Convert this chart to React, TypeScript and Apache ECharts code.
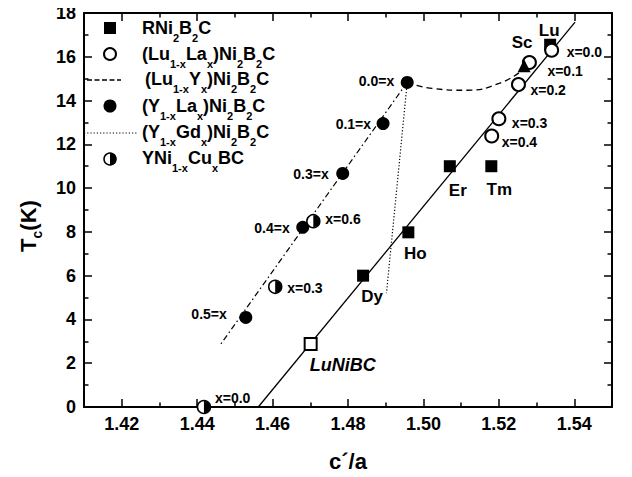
import React, { useEffect, useRef } from "react";
import * as echarts from "echarts";

// ---------- data ----------
const rNames = ["Dy", "Ho", "Er", "Tm", "Lu"];
const rCa = [1.484, 1.496, 1.507, 1.518, 1.5336];
const rTc = [6.0, 7.98, 11.0, 11.0, 16.55];

const scNames = ["Sc"];
const scCa = [1.5267];
const scTc = [15.59];

const luNiBCNames = ["LuNiBC"];
const luNiBCCa = [1.4701];
const luNiBCTc = [2.88];

const luLaNames = ["x=0.0", "x=0.1", "x=0.2", "x=0.3", "x=0.4"];
const luLaCa = [1.534, 1.5281, 1.5252, 1.52, 1.5181];
const luLaTc = [16.3, 15.74, 14.73, 13.17, 12.38];

const yLaNames = ["0.0=x", "0.1=x", "0.3=x", "0.4=x", "0.5=x"];
const yLaCa = [1.4957, 1.4893, 1.4786, 1.468, 1.4529];
const yLaTc = [14.83, 12.95, 10.67, 8.21, 4.09];

const cuNames = ["x=0.6", "x=0.3", "x=0.0"];
const cuCa = [1.4708, 1.4607, 1.4418];
const cuTc = [8.49, 5.49, 0.0];

const luYCa = [1.4957, 1.5025, 1.5114, 1.5203, 1.526];
const luYTc = [14.83, 14.55, 14.47, 14.8, 15.35];

const yGdCa = [1.4957, 1.4902];
const yGdTc = [14.83, 5.2];

const yLaFitCa = [1.4957, 1.4463];
const yLaFitTc = [14.83, 2.88];

const rFitCa = [1.4562, 1.5402];
const rFitTc = [0, 17.58];

const xMajorTicks = [1.42, 1.44, 1.46, 1.48, 1.5, 1.52, 1.54];
const xMinorTicks = [1.43, 1.45, 1.47, 1.49, 1.51, 1.53];

// ---------- layout / style ----------
const FONT = 'Arial, "Liberation Sans", Helvetica, sans-serif';
const labelOffsets: Record<string, [number, number]> = {
  Dy: [9, 21], Ho: [7, 21], Er: [8, 24], Tm: [8, 23], Lu: [-1, -14], Sc: [-2, -23], LuNiBC: [-1, 21],
};
const luLaOffsets: [number, number][] = [[15, 2], [18, 9], [12, 5], [13, 4], [10, 6]];
const yLaOffsets: [number, number][] = [[-13, -1], [-12, 0], [-14, 1], [-13, 1], [-19, -3]];
const cuOffsets: [number, number][] = [[12, -2], [12, 1], [11, -9]];

const zip = (a: number[], b: number[]) => a.map((v, i) => [v, b[i]]);

const smallLabel = (text: string, off: [number, number], align: string) => ({
  show: true,
  position: "inside",
  formatter: text,
  offset: off,
  align,
  verticalAlign: "middle",
  color: "#000",
  fontFamily: FONT,
  fontWeight: "bold",
  fontSize: 14,
});

const bigLabel = (text: string, off: [number, number], align = "center", italic = false) => ({
  show: true,
  position: "inside",
  formatter: text,
  offset: off,
  align,
  verticalAlign: "middle",
  color: "#000",
  fontFamily: FONT,
  fontWeight: "bold",
  fontStyle: italic ? "italic" : "normal",
  fontSize: italic ? 18 : 17,
});

const sub = {
  fontSize: 11,
  fontWeight: "bold",
  fontFamily: FONT,
  verticalAlign: "top",
  padding: [15, 0, 0, 0],
  lineHeight: 22,
  fill: "#000",
  color: "#000",
};

const legendText = (text: string, x: number, y: number) => ({
  type: "text",
  x,
  y,
  style: {
    text,
    x: 0,
    y: 0,
    fill: "#000",
    fontSize: 18,
    fontWeight: "bold",
    fontFamily: FONT,
    lineHeight: 22,
    align: "left",
    textAlign: "left",
    verticalAlign: "middle",
    textVerticalAlign: "middle",
    rich: { s: sub },
  },
  z: 100,
});

const axisCommon = {
  type: "value",
  min: 1.41,
  max: 1.55,
  splitLine: { show: false },
};

export default function App() {
  const ref = useRef<HTMLDivElement>(null);
  useEffect(() => {
    if (!ref.current) return;
    const chart = echarts.init(ref.current, null, { renderer: "svg" });
    const tickLine = { color: "#000", width: 1.5 };
    const axisLine = { show: true, onZero: false, lineStyle: { color: "#000", width: 2 } };

    const option: any = {
      animation: false,
      backgroundColor: "#fff",
      grid: { left: 84, right: 20, top: 13, bottom: 68, containLabel: false },
      xAxis: [
        {
          ...axisCommon,
          position: "bottom",
          axisLine,
          axisTick: { show: true, inside: true, length: 8, lineStyle: tickLine, customValues: xMajorTicks },
          axisLabel: {
            show: true,
            customValues: xMajorTicks,
            formatter: (v: number) => v.toFixed(2),
            color: "#000",
            fontFamily: FONT,
            fontWeight: "bold",
            fontSize: 18,
            margin: 8,
          },
          name: "c\u00b4/a",
          nameLocation: "middle",
          nameGap: 43,
          nameTextStyle: { color: "#000", fontFamily: FONT, fontWeight: "bold", fontSize: 22 },
        },
        {
          ...axisCommon,
          position: "bottom",
          axisLine: { show: false, onZero: false },
          axisTick: { show: true, inside: true, length: 4.5, lineStyle: tickLine, customValues: xMinorTicks },
          axisLabel: { show: false },
        },
        {
          ...axisCommon,
          position: "top",
          axisLine,
          axisTick: { show: true, inside: true, length: 8, lineStyle: tickLine, customValues: xMajorTicks },
          axisLabel: { show: false },
        },
        {
          ...axisCommon,
          position: "top",
          axisLine: { show: false, onZero: false },
          axisTick: { show: true, inside: true, length: 4.5, lineStyle: tickLine, customValues: xMinorTicks },
          axisLabel: { show: false },
        },
      ],
      yAxis: [
        {
          type: "value",
          position: "left",
          min: 0,
          max: 18,
          interval: 2,
          splitLine: { show: false },
          axisLine,
          axisTick: { show: true, inside: true, length: 8, lineStyle: tickLine },
          minorTick: { show: true, splitNumber: 2, length: 4.5, lineStyle: tickLine },
          axisLabel: { color: "#000", fontFamily: FONT, fontWeight: "bold", fontSize: 18, margin: 8 },
        },
        {
          type: "value",
          position: "right",
          min: 0,
          max: 18,
          interval: 2,
          splitLine: { show: false },
          axisLine,
          axisTick: { show: true, inside: true, length: 8, lineStyle: tickLine },
          minorTick: { show: true, splitNumber: 2, length: 4.5, lineStyle: tickLine },
          axisLabel: { show: false },
        },
      ],
      series: [
        {
          name: "RNi2B2C fit",
          type: "line",
          data: zip(rFitCa, rFitTc),
          showSymbol: false,
          symbol: "none",
          lineStyle: { color: "#000", width: 1.3 },
          z: 1,
          clip: false,
        },
        {
          name: "(Lu1-xYx)Ni2B2C",
          type: "line",
          data: zip(luYCa, luYTc),
          smooth: true,
          symbol: "none",
          lineStyle: { color: "#000", width: 1.3, type: [6, 4] },
          z: 1,
        },
        {
          name: "(Y1-xGdx)Ni2B2C",
          type: "line",
          data: zip(yGdCa, yGdTc),
          symbol: "none",
          lineStyle: { color: "#000", width: 1.2, type: [1.2, 2] },
          z: 1,
        },
        {
          name: "(Y1-xLax)Ni2B2C fit",
          type: "line",
          data: zip(yLaFitCa, yLaFitTc),
          symbol: "none",
          lineStyle: { color: "#000", width: 1.2, type: [6, 3, 1.5, 3] },
          z: 1,
        },
        {
          name: "RNi2B2C",
          type: "scatter",
          symbol: "rect",
          symbolSize: 12,
          itemStyle: { color: "#000", opacity: 1 },
          clip: false,
          z: 3,
          data: rNames.map((n, i) => ({ value: [rCa[i], rTc[i]], label: bigLabel(n, labelOffsets[n]) })),
        },
        {
          name: "LuNiBC",
          type: "scatter",
          symbol: "rect",
          symbolSize: 12,
          itemStyle: { color: "#fff", borderColor: "#000", borderWidth: 2, opacity: 1 },
          clip: false,
          z: 3,
          data: luNiBCNames.map((n, i) => ({
            value: [luNiBCCa[i], luNiBCTc[i]],
            label: bigLabel(n, labelOffsets[n], "left", true),
          })),
        },
        {
          name: "(Lu1-xLax)Ni2B2C",
          type: "scatter",
          symbol: "circle",
          symbolSize: 13,
          itemStyle: { color: "#fff", borderColor: "#000", borderWidth: 2, opacity: 1 },
          clip: false,
          z: 4,
          data: luLaNames.map((n, i) => ({ value: [luLaCa[i], luLaTc[i]], label: smallLabel(n, luLaOffsets[i], "left") })),
        },
        {
          name: "Sc",
          type: "scatter",
          symbol: "triangle",
          symbolSize: 13,
          itemStyle: { color: "#000", opacity: 1 },
          clip: false,
          z: 5,
          data: scNames.map((n, i) => ({ value: [scCa[i], scTc[i]], label: bigLabel(n, labelOffsets[n]) })),
        },
        {
          name: "(Y1-xLax)Ni2B2C",
          type: "scatter",
          symbol: "circle",
          symbolSize: 13,
          itemStyle: { color: "#000", opacity: 1 },
          clip: false,
          z: 4,
          data: yLaNames.map((n, i) => ({ value: [yLaCa[i], yLaTc[i]], label: smallLabel(n, yLaOffsets[i], "right") })),
        },
        {
          name: "YNi1-xCuxBC",
          type: "scatter",
          symbol: "circle",
          symbolSize: 13,
          itemStyle: { color: "#fff", borderColor: "#000", borderWidth: 1.5, opacity: 1 },
          clip: false,
          z: 4,
          data: cuNames.map((n, i) => ({ value: [cuCa[i], cuTc[i]], label: smallLabel(n, cuOffsets[i], "left") })),
        },
        {
          name: "YNi1-xCuxBC half",
          type: "custom",
          z: 5,
          clip: false,
          data: zip(cuCa, cuTc),
          encode: { x: 0, y: 1 },
          renderItem: (params: any, api: any) => {
            const p = api.coord([api.value(0), api.value(1)]);
            return {
              type: "sector",
              shape: { cx: p[0], cy: p[1], r: 6.2, r0: 0, startAngle: -Math.PI / 2, endAngle: Math.PI / 2, clockwise: true },
              style: { fill: "#000" },
            };
          },
        },
      ],
      graphic: [
        // legend symbols
        { type: "rect", shape: { x: 104, y: 22, width: 12, height: 12 }, style: { fill: "#000" }, z: 100 },
        { type: "circle", shape: { cx: 110, cy: 54, r: 6 }, style: { fill: "#fff", stroke: "#000", lineWidth: 2 }, z: 100 },
        { type: "line", shape: { x1: 87, y1: 80, x2: 121, y2: 80 }, style: { stroke: "#000", lineWidth: 1.3, lineDash: [5, 2.5] }, z: 100 },
        { type: "circle", shape: { cx: 110, cy: 106, r: 6.5 }, style: { fill: "#000" }, z: 100 },
        { type: "line", shape: { x1: 84, y1: 133, x2: 137, y2: 133 }, style: { stroke: "#000", lineWidth: 1.2, lineDash: [1.2, 2] }, z: 100 },
        { type: "circle", shape: { cx: 110, cy: 159, r: 6 }, style: { fill: "#fff", stroke: "#000", lineWidth: 1.5 }, z: 100 },
        {
          type: "sector",
          shape: { cx: 110, cy: 159, r: 6.2, r0: 0, startAngle: -Math.PI / 2, endAngle: Math.PI / 2, clockwise: true },
          style: { fill: "#000" },
          z: 101,
        },
        // legend texts
        legendText("RNi{s|2}B{s|2}C", 142, 28),
        legendText("(Lu{s|1-x}La{s|x})Ni{s|2}B{s|2}C", 142, 54),
        legendText("(Lu{s|1-x}Y{s|x})Ni{s|2}B{s|2}C", 145, 79),
        legendText("(Y{s|1-x}La{s|x})Ni{s|2}B{s|2}C", 142, 106),
        legendText("(Y{s|1-x}Gd{s|x})Ni{s|2}B{s|2}C", 142, 132),
        legendText("YNi{s|1-x}Cu{s|x}BC", 142, 158),
        // y axis title
        {
          type: "text",
          x: 28.5,
          y: 226,
          rotation: Math.PI / 2,
          style: {
            text: "T{s|c}(K)",
            x: 0,
            y: 0,
            fill: "#000",
            fontSize: 22,
            fontWeight: "bold",
            fontFamily: FONT,
            lineHeight: 26,
            align: "center",
            textAlign: "center",
            verticalAlign: "middle",
            textVerticalAlign: "middle",
            rich: { s: { ...sub, fontSize: 14, padding: [14, 0, 0, 0], lineHeight: 26 } },
          },
          z: 100,
        },
      ],
    };
    chart.setOption(option);
    return () => chart.dispose();
  }, []);
  return <div ref={ref} style={{ width: 632, height: 477, margin: -8 }} />;
}
